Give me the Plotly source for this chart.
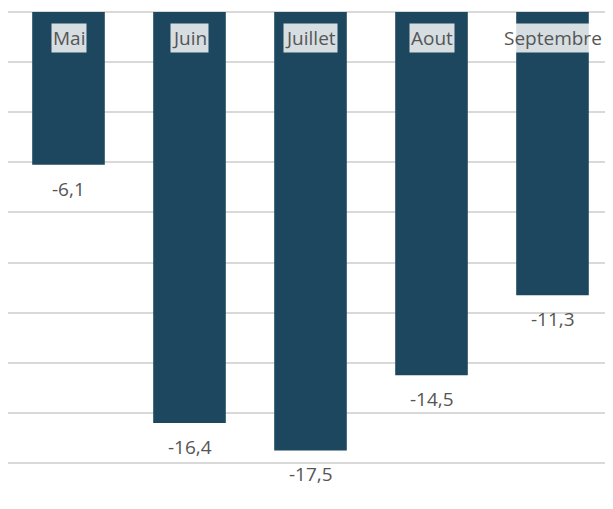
import plotly.graph_objects as go

categories = ["Mai", "Juin", "Juillet", "Aout", "Septembre"]
values = [-6.1, -16.4, -17.5, -14.5, -11.3]
value_labels = ["-6,1", "-16,4", "-17,5", "-14,5", "-11,3"]

bar_color = "#1c475e"
text_color = "#555555"
font_family = "Open Sans, Noto Sans, sans-serif"

fig = go.Figure()
fig.add_trace(go.Bar(
    x=categories, y=values, marker_color=bar_color,
    marker_line_width=0, width=0.6, hoverinfo="skip",
))

annotations = []
for c, v, lab in zip(categories, values, value_labels):
    annotations.append(dict(
        x=c, y=v, text=lab, showarrow=False, yanchor="middle",
        yshift=-24, font=dict(family=font_family, size=19, color=text_color),
    ))
    annotations.append(dict(
        x=c, y=0, text=c, showarrow=False, yanchor="middle",
        yshift=-26, font=dict(family=font_family, size=19, color=text_color),
        bgcolor="rgba(255,255,255,0.82)", borderpad=1,
    ))

fig.update_layout(
    width=613, height=509,
    margin=dict(l=0, r=8, t=1, b=51),
    plot_bgcolor="white", paper_bgcolor="white",
    showlegend=False,
    annotations=annotations,
    xaxis=dict(showticklabels=False, showgrid=False, zeroline=False,
               range=[-0.5, 4.5], fixedrange=True),
    yaxis=dict(showticklabels=False, range=[-18.12, 0.12], dtick=2, tick0=0,
               showgrid=True, gridcolor="#d9d9d9", gridwidth=2,
               zeroline=False, fixedrange=True),
)

fig.write_html("out.html", config={"displayModeBar": False})
